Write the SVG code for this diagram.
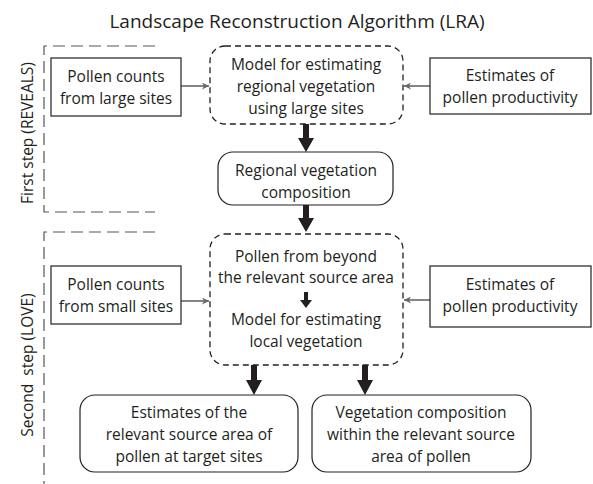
<svg xmlns="http://www.w3.org/2000/svg" width="593" height="484" viewBox="0 0 593 484">
<style>
text{font-family:"Open Sans","Liberation Sans",sans-serif;font-size:15.5px;fill:#231f20;text-anchor:middle}
.title{font-size:19px}
.box{fill:#fff;stroke:#231f20;stroke-width:1.2}
.dash{fill:#fff;stroke:#231f20;stroke-width:1.3;stroke-dasharray:6 4}
.br{fill:none;stroke:#555;stroke-width:1.2;stroke-dasharray:12 6}
.thin{stroke:#666;stroke-width:1.6;fill:none;marker-end:url(#ah)}
.thick{fill:#231f20}
</style>
<defs>
<marker id="ah" viewBox="0 0 10 10" refX="10" refY="5" markerWidth="7" markerHeight="7" markerUnits="userSpaceOnUse" orient="auto">
<path d="M0,0 L10,5 L0,10 L3,5 Z" fill="#666"/>
</marker>
</defs>
<text class="title" x="297" y="28">Landscape Reconstruction Algorithm (LRA)</text>
<g id="brackets">
<path class="br" d="M155,46 H44 V212 H155"/>
<path class="br" d="M155,232 H44 V484"/>
<text transform="translate(33,133) rotate(-90)">First step (REVEALS)</text>
<text transform="translate(33,365) rotate(-90)" xml:space="preserve">Second  step (LOVE)</text>
</g>
<g id="connectors">
<line class="thin" x1="181" y1="86" x2="209" y2="86"/>
<line class="thin" x1="430" y1="86" x2="404" y2="86"/>
<line class="thin" x1="181" y1="301" x2="209" y2="301"/>
<line class="thin" x1="430" y1="300" x2="404" y2="300"/>
<path class="thick" d="M303,124 H309 V138 H314 L306,152 L298,138 H303 Z"/>
<path class="thick" d="M303,205 H309 V218 H314 L306,232 L298,218 H303 Z"/>
<path class="thick" d="M251,365 H257 V380 H262 L254,395 L246,380 H251 Z"/>
<path class="thick" d="M362,365 H368 V380 H373 L365,395 L357,380 H362 Z"/>
</g>
<g id="n1"><rect class="box" x="51" y="58" width="130" height="58"/>
<text x="116" y="82">Pollen counts</text><text x="116" y="104">from large sites</text></g>
<g id="n2"><rect class="dash" x="210" y="46" width="193" height="78" rx="15"/>
<text x="306" y="70">Model for estimating</text><text x="306" y="92">regional vegetation</text><text x="306" y="114">using large sites</text></g>
<g id="n3"><rect class="box" x="430" y="58" width="161" height="56"/>
<text x="510" y="81">Estimates of</text><text x="510" y="103">pollen productivity</text></g>
<g id="n4"><rect class="box" x="218" y="152" width="175" height="53" rx="15"/>
<text x="306" y="176">Regional vegetation</text><text x="306" y="198">composition</text></g>
<g id="n5"><rect class="dash" x="210" y="234" width="193" height="131" rx="15"/>
<text x="306" y="262">Pollen from beyond</text><text x="306" y="283">the relevant source area</text>
<path class="thick" d="M304,292 H308 V300 H312 L306,308 L300,300 H304 Z"/>
<text x="306" y="325">Model for estimating</text><text x="306" y="347">local vegetation</text></g>
<g id="n6"><rect class="box" x="51" y="266" width="130" height="58"/>
<text x="116" y="290">Pollen counts</text><text x="116" y="312">from small sites</text></g>
<g id="n7"><rect class="box" x="430" y="266" width="161" height="61"/>
<text x="510" y="290">Estimates of</text><text x="510" y="312">pollen productivity</text></g>
<g id="n8"><rect class="box" x="80" y="395" width="218" height="77" rx="15"/>
<text x="189" y="418">Estimates of the</text><text x="189" y="440">relevant source area of</text><text x="189" y="462">pollen at target sites</text></g>
<g id="n9"><rect class="box" x="312" y="395" width="219" height="77" rx="15"/>
<text x="421" y="418">Vegetation composition</text><text x="421" y="440">within the relevant source</text><text x="421" y="462">area of pollen</text></g>
</svg>
